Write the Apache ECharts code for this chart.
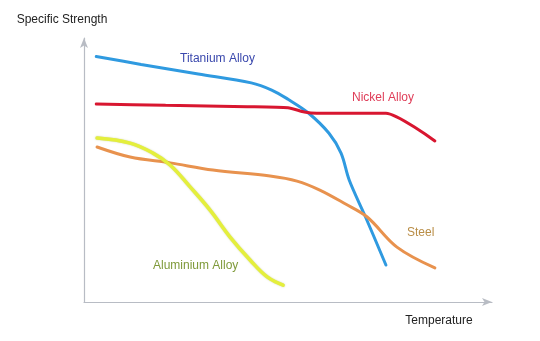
<!DOCTYPE html>
<html>
<head>
<meta charset="utf-8">
<style>
  html, body { margin: 0; padding: 0; background: #ffffff; }
  #chart { width: 540px; height: 341px; }
</style>
<script src="https://cdn.jsdelivr.net/npm/echarts@6/dist/echarts.min.js"></script>
</head>
<body>
<div id="chart"></div>
<script>
// Qualitative curves: specific strength versus temperature (arbitrary 0-100 units)
const titaniumTemp     = [3, 14, 28, 41, 46, 50, 55, 60, 63, 65, 69, 74];
const titaniumStrength = [93, 90, 86.4, 83, 80.3, 76.8, 71.6, 64, 56.4, 46.2, 32.2, 14];

const nickelTemp     = [3, 20, 40, 50, 54, 57, 74, 86];
const nickelStrength = [75, 74.5, 74, 73.6, 72, 71.5, 71.5, 61];

const steelTemp     = [3.2, 11.3, 21.1, 31.6, 45.6, 52.2, 57.8, 64, 69.4, 76.7, 86];
const steelStrength = [58.7, 54.9, 52.7, 50, 47.7, 45.8, 42.4, 37.2, 32.2, 20.8, 12.9];

const aluminiumTemp     = [3.2, 11.3, 16.9, 21.1, 26, 30.9, 35.8, 40.7, 44.9, 48.8];
const aluminiumStrength = [62.1, 60.2, 56.4, 51.9, 43.6, 34.8, 24.6, 15.9, 9.5, 6.4];

const seriesNames = ['Titanium Alloy', 'Nickel Alloy', 'Steel', 'Aluminium Alloy'];
const axisNames = ['Temperature', 'Specific Strength'];

function pairs(xs, ys) { return xs.map((x, i) => [x, ys[i]]); }

const chart = echarts.init(document.getElementById('chart'), null, { renderer: 'canvas' });
const font = 'Liberation Sans, Arial, Helvetica, sans-serif';
const axisColor = '#b8bcc4';

chart.setOption({
  animation: false,
  backgroundColor: '#ffffff',
  grid: { left: 84, right: 48, top: 38, bottom: 39 },
  xAxis: {
    type: 'value', min: 0, max: 100,
    name: axisNames[0], nameLocation: 'end', nameGap: 0,
    nameTextStyle: { color: '#222', fontSize: 12, fontFamily: font, align: 'center', verticalAlign: 'top', padding: [13, 0, 0, -106] },
    axisLine: { show: true, symbol: ['none', 'arrow'], symbolSize: [6, 10], lineStyle: { color: axisColor, width: 1.2 } },
    axisTick: { show: false }, axisLabel: { show: false }, splitLine: { show: false }
  },
  yAxis: {
    type: 'value', min: 0, max: 100,
    name: axisNames[1], nameLocation: 'end', nameGap: 0,
    nameTextStyle: { color: '#222', fontSize: 12, fontFamily: font, align: 'center', verticalAlign: 'bottom', padding: [0, 44, 12, 0] },
    axisLine: { show: true, symbol: ['none', 'arrow'], symbolSize: [6, 10], lineStyle: { color: axisColor, width: 1.2 } },
    axisTick: { show: false }, axisLabel: { show: false }, splitLine: { show: false }
  },
  series: [
    {
      name: seriesNames[0], type: 'line', smooth: 0.35, symbol: 'none',
      data: pairs(titaniumTemp, titaniumStrength),
      lineStyle: { color: '#2f9ae0', width: 3, cap: 'round' }
    },
    {
      name: seriesNames[1], type: 'line', smooth: 0.2, symbol: 'none',
      data: pairs(nickelTemp, nickelStrength),
      lineStyle: { color: '#d81630', width: 3, cap: 'round' }
    },
    {
      name: seriesNames[2], type: 'line', smooth: 0.35, symbol: 'none',
      data: pairs(steelTemp, steelStrength),
      lineStyle: { color: '#e8924e', width: 3, cap: 'round' }
    },
    {
      name: seriesNames[3], type: 'line', smooth: 0.4, symbol: 'none',
      data: pairs(aluminiumTemp, aluminiumStrength),
      lineStyle: { color: '#e4ef3c', width: 3.5, cap: 'round', shadowColor: 'rgba(150,160,40,0.5)', shadowBlur: 1.5 }
    }
  ],
  graphic: [
    { type: 'text', left: 180, top: 53, style: { text: seriesNames[0], fill: '#3a48ad', font: '12px ' + font } },
    { type: 'text', left: 352, top: 92, style: { text: seriesNames[1], fill: '#df3d58', font: '12px ' + font } },
    { type: 'text', left: 407, top: 227, style: { text: seriesNames[2], fill: '#b98d46', font: '12px ' + font } },
    { type: 'text', left: 153, top: 260, style: { text: seriesNames[3], fill: '#7f9a3a', font: '12px ' + font } }
  ]
});
</script>
</body>
</html>
